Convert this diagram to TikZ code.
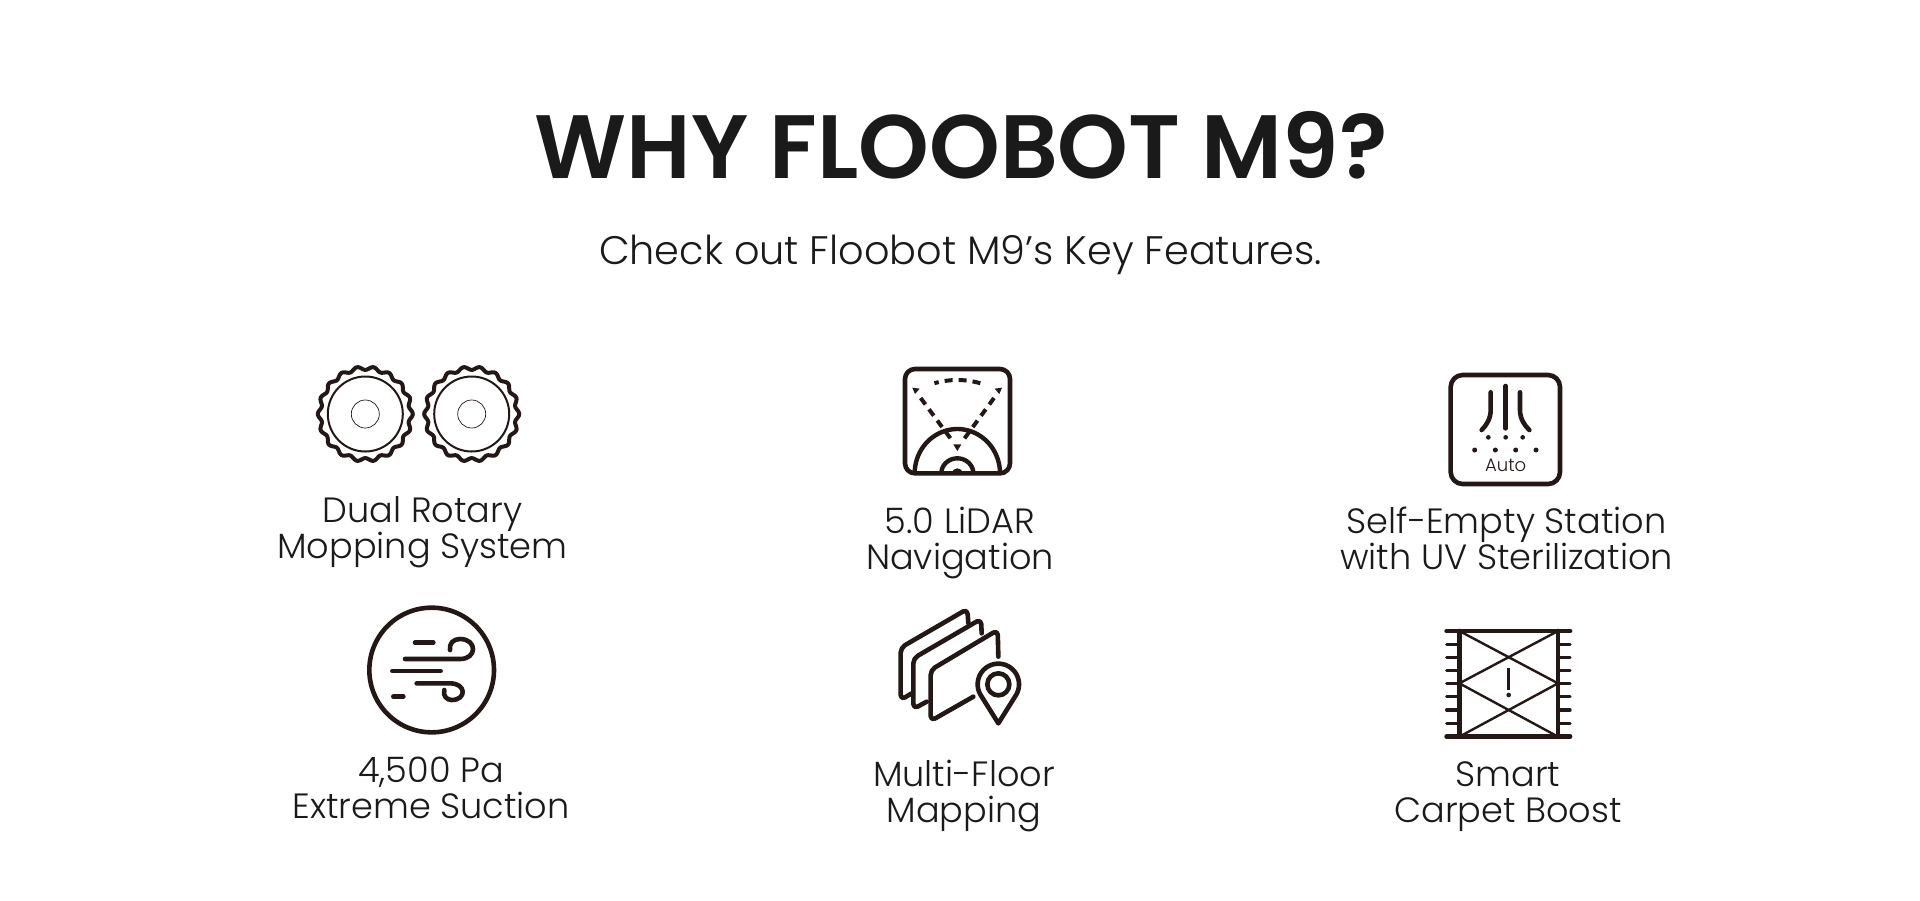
\documentclass[tikz,border=0pt]{standalone}
\usepackage{fontspec}
\setmainfont{Poppins Light}[BoldFont=Poppins SemiBold]
\definecolor{ink}{HTML}{231815}
\definecolor{titleink}{HTML}{1A1A1A}
\tikzset{
  lab/.style={font=\fontsize{17.55pt}{18pt}\selectfont,text=titleink,anchor=base,inner sep=0pt},
  thick line/.style={draw=ink,line width=2.3pt,line cap=round,line join=round},
  hair/.style={draw=ink,line width=.35pt},
  dashy/.style={draw=ink,line width=2pt,dash pattern=on 4pt off 3pt},
}
\begin{document}
\begin{tikzpicture}[x=.5pt,y=-.5pt]
\useasboundingbox[fill=white] (0,0) rectangle (1920,900);
\node[font=\fontsize{45pt}{50pt}\selectfont\bfseries,text=titleink,anchor=base,inner sep=0pt] (title) at (961,178.5) {WHY FLOOBOT M9?};
\node[font=\fontsize{19.9pt}{22pt}\selectfont,text=titleink,anchor=base,inner sep=0pt] (sub) at (960.5,264) {Check out Floobot M9’s Key Features.};
% labels
\node[lab] (a1) at (422.5,522) {Dual Rotary};
\node[lab] (a2) at (422.5,558) {Mopping System};
\node[lab] (b1) at (960,533) {5.0 LiDAR};
\node[lab] (b2) at (960,569) {Navigation};
\node[lab] (c1) at (1506.5,533) {Self-Empty Station};
\node[lab] (c2) at (1506.5,569) {with UV Sterilization};
\node[lab] (d1) at (431,782) {4,500 Pa};
\node[lab] (d2) at (431,818) {Extreme Suction};
\node[lab] (e1) at (964,786.5) {Multi-Floor};
\node[lab] (e2) at (964,822.5) {Mapping};
\node[lab] (f1) at (1508,786.5) {Smart};
\node[lab] (f2) at (1508,822.5) {Carpet Boost};
% dual mop
\foreach \cx in {365.3,471.7}{
  \begin{scope}[shift={(\cx,414)}]
    \draw[thick line,line width=2pt] plot[domain=0:360,samples=217,smooth cycle] (\x:{45.8+1.7*cos(18*\x)});
    \draw[draw=ink,line width=1pt] (0,0) circle[radius=37.5];
    \draw[hair] (0,0) circle[radius=14];
  \end{scope}
}
% LiDAR
\begin{scope}[shift={(870,350)},scale=1/3]
  \draw[thick line,rounded corners=5pt] (105,57) rectangle (420,370);
  \draw[draw=ink,line width=2.2pt] plot[domain=0:180,samples=40] ({262+128*cos(\x)},{370-133*sin(\x)});
  \draw[draw=ink,line width=2.2pt] plot[domain=0:180,samples=30] ({262+48*cos(\x)},{370-45*sin(\x)});
  \fill[ink] (246,370) .. controls (248,350) and (276,350) .. (278,370) -- cycle;
  \draw[dashy] plot[domain=74:106,samples=15] ({262+250*cos(\x)},{90+250-250*sin(\x)});
  \draw[dashy] (152,144)--(245,270);
  \draw[dashy] (372,144)--(280,270);
  \fill[ink] (127,113)--(149,116)--(135,132)--cycle;
  \fill[ink] (396,113)--(374,116)--(388,132)--cycle;
  \fill[ink] (250,283)--(274,283)--(262,303)--cycle;
\end{scope}
% Self-empty
\begin{scope}[shift={(1430,360)},scale=1/3]
  \draw[thick line,rounded corners=6pt] (62,45) rectangle (390,372);
  \draw[thick line] (227,78)--(227,205);
  \draw[thick line] (182,97)--(182,150) .. controls (182,175) and (170,195) .. (155,210);
  \draw[thick line] (270,97)--(270,150) .. controls (270,175) and (282,195) .. (298,210);
  \foreach \p in {175,227,278}{\fill[ink] (\p,232) circle[radius=7];}
  \foreach \p in {134,196,257,318}{\fill[ink] (\p,270) circle[radius=7.5];}
  \node[font=\fontsize{9pt}{10pt}\selectfont,text=ink,anchor=base,inner sep=0pt] (auto) at (227,333) {Auto};
\end{scope}
% Suction
\begin{scope}[shift={(350,595)},scale=1/3]
  \draw[thick line] (245,225) circle[radius=187];
  \draw[thick line] (195,143)--(250,143);
  \draw[thick line] (165,192)--(330,192) .. controls (382,192) and (382,132) .. (330,132) .. controls (310,132) and (297,145) .. (300,165);
  \draw[thick line] (127,228)--(272,228);
  \draw[thick line] (200,265)--(300,265) .. controls (350,265) and (350,315) .. (305,315) .. controls (290,315) and (278,302) .. (283,285);
  \draw[thick line] (130,305)--(160,305);
\end{scope}
% Multi-floor
\begin{scope}[shift={(880,595)},scale=1/3]
  \draw[thick line,rounded corners=2.5pt] (265,85)--(262,42)--(62,158)--(62,315)--(95,295);
  \draw[thick line,rounded corners=2.5pt] (305,115)--(303,72)--(100,190)--(100,342)--(140,320);
  \draw[thick line,rounded corners=2.5pt] (355,185)--(353,105)--(152,225)--(152,378)--(280,305);
  \draw[thick line] plot[domain=-32.6:212.6,samples=60] ({355+62*cos(\x)},{268-62*sin(\x)}) -- (355,385) -- cycle;
  \draw[thick line] (355,268) circle[radius=33];
\end{scope}
% Carpet
\begin{scope}[shift={(1430,615)},scale=1/3]
  \draw[draw=ink,line width=1.2pt] (88,48)--(384,205)--(88,365);
  \draw[draw=ink,line width=1.2pt] (384,48)--(88,205)--(384,365);
  \draw[thick line] (88,48)--(88,365);
  \draw[thick line] (384,48)--(384,365);
  \foreach \q in {88,127,166,205,245,285,325}{
    \draw[thick line,line width=1.7pt] (50,\q)--(88,\q);
    \draw[thick line,line width=1.7pt] (384,\q)--(420,\q);
  }
  \draw[thick line,line width=2.4pt] (50,48)--(420,48);
  \draw[thick line,line width=2.4pt] (50,365)--(420,365);
  \draw[draw=ink,line width=1.3pt] (236,160)--(236,225);
  \fill[ink] (236,240) circle[radius=7];
\end{scope}
\end{tikzpicture}
\end{document}
